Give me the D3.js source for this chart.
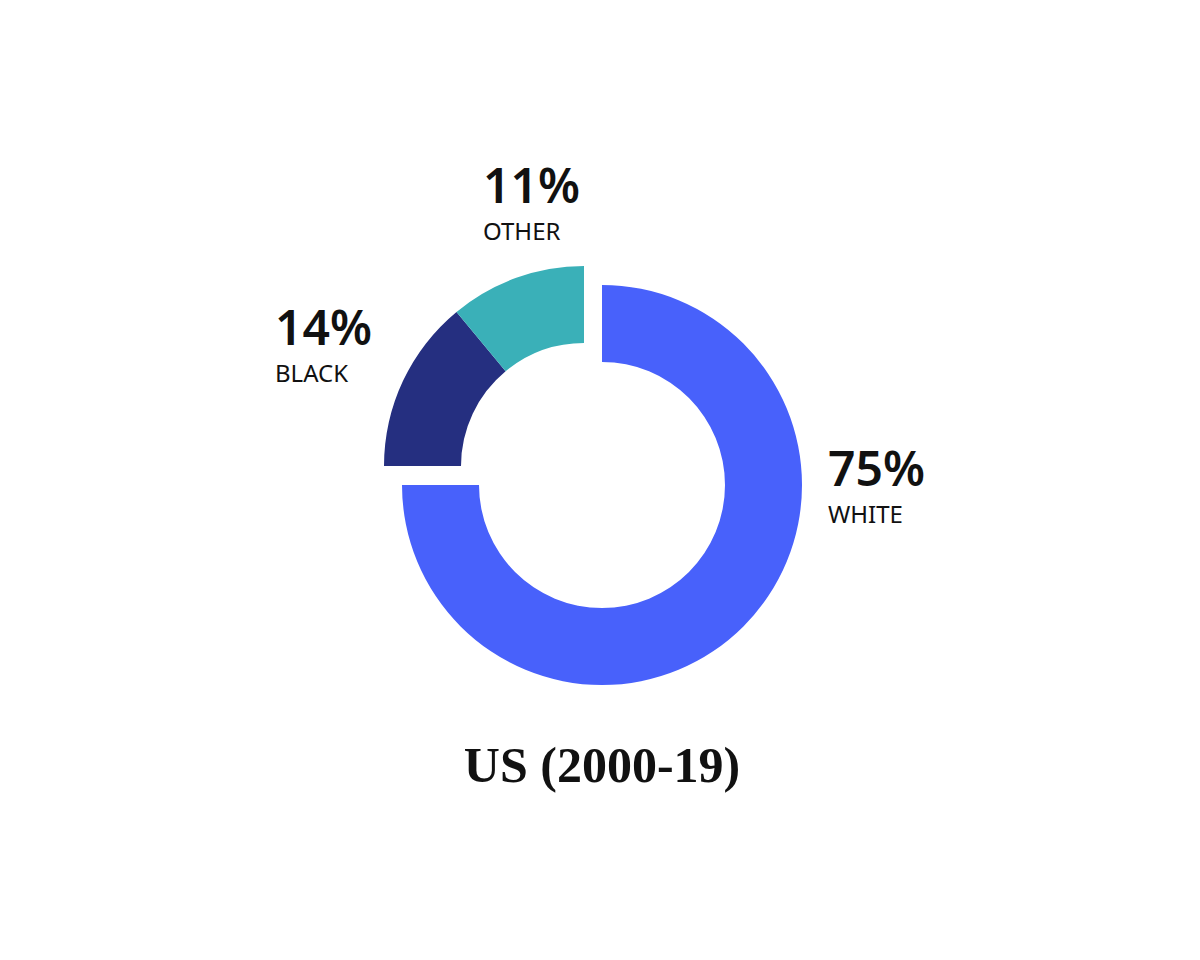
<!DOCTYPE html>
<html>
<head>
<meta charset="utf-8">
<script src="https://cdn.jsdelivr.net/npm/d3@7"></script>
<style>
  body { margin: 0; background: #fff; }
  .pct { font-family: "Noto Sans", sans-serif; font-weight: 600; font-size: 48px; fill: #111; }
  .lbl { font-family: "Noto Sans", sans-serif; font-size: 24px; fill: #111; }
  .title { font-family: "Liberation Serif", serif; font-weight: bold; font-size: 50px; fill: #111; }
</style>
</head>
<body>
<svg id="chart" width="1200" height="960"></svg>
<script>
var categories = ["WHITE", "BLACK", "OTHER"];
var values = [75, 14, 11];
var colors = ["#4861fb", "#252f80", "#3ab0b8"];
var exploded = [false, true, true];
var title = "US (2000-19)";

var svg = d3.select("#chart");
var cx = 602, cy = 485, outerR = 200, innerR = 123;
var shift = {x: -18, y: -19};

var data = categories.map(function(c, i){
  return {name: c, value: values[i], color: colors[i], exploded: exploded[i]};
});

var pie = d3.pie().sort(null).value(function(d){ return d.value; });
var arc = d3.arc().innerRadius(innerR).outerRadius(outerR);

svg.selectAll("path.slice")
  .data(pie(data))
  .enter().append("path")
    .attr("class", "slice")
    .attr("d", arc)
    .attr("fill", function(d){ return d.data.color; })
    .attr("transform", function(d){
      return d.data.exploded
        ? "translate(" + (cx + shift.x) + "," + (cy + shift.y) + ")"
        : "translate(" + cx + "," + cy + ")";
    });

// label anchors (percent baseline position)
var labelPos = [[828, 486], [275, 345], [483, 203]];

data.forEach(function(d, i){
  var g = svg.append("g").attr("transform", "translate(" + labelPos[i][0] + "," + labelPos[i][1] + ")");
  g.append("text").attr("class", "pct").text(d.value + "%");
  g.append("text").attr("class", "lbl").attr("y", 37).text(d.name);
});

svg.append("text")
  .attr("class", "title")
  .attr("x", 602).attr("y", 782)
  .attr("text-anchor", "middle")
  .text(title);
</script>
</body>
</html>
